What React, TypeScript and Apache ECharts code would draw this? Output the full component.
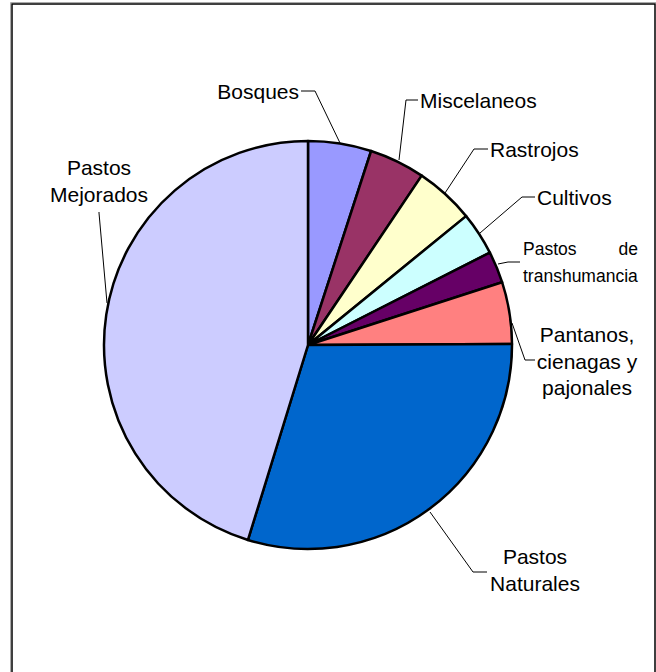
import React, { useEffect, useRef } from "react";
import * as echarts from "echarts";

const categories = [
  "Bosques",
  "Miscelaneos",
  "Rastrojos",
  "Cultivos",
  "Pastos de transhumancia",
  "Pantanos, cienagas y pajonales",
  "Pastos Naturales",
  "Pastos Mejorados",
];
const values = [5.0, 4.4, 4.7, 3.4, 2.5, 4.9, 29.8, 45.2];
const colors = ["#9999FF", "#993366", "#FFFFCC", "#CCFFFF", "#660066", "#FF8080", "#0066CC", "#CCCCFF"];
const labelTexts = [
  "Bosques",
  "Miscelaneos",
  "Rastrojos",
  "Cultivos",
  "{a|Pastos}{b|de}\n{c|transhumancia}",
  "Pantanos,\ncienagas y\npajonales",
  "Pastos\nNaturales",
  "Pastos\nMejorados",
];

// label anchor placements (layout only)
const layouts: any[] = [
  { x: 299, y: 91, align: "right", pts: [[340, 143], [315, 91], [301, 91]] },
  { x: 420, y: 100, align: "left", pts: [[399, 160], [406, 100], [418, 100]] },
  { x: 490, y: 149, align: "left", pts: [[445, 193], [474, 149], [488, 149]] },
  { x: 537, y: 197, align: "left", pts: [[480, 233], [522, 197], [535, 197]] },
  { x: 523, y: 262, align: "left", pts: [[498, 264], [508, 262], [520, 262]] },
  { x: 587, y: 361, align: "center", pts: [[512, 323], [525, 360], [535, 360]] },
  { x: 535, y: 570, align: "center", pts: [[430, 512], [473, 572], [487, 572]] },
  { x: 99, y: 181, align: "center", pts: [[107, 303], [99, 213], [99, 212]] },
];

const FONT = "'Liberation Sans', Arial, sans-serif";

export default function App() {
  const ref = useRef<HTMLDivElement>(null);
  useEffect(() => {
    const chart = echarts.init(ref.current!, undefined, { renderer: "svg" });
    chart.setOption({
      animation: false,
      backgroundColor: "#ffffff",
      graphic: [
        {
          type: "rect",
          shape: { x: 10.5, y: 2.5, width: 646, height: 700 },
          style: { fill: "none", stroke: "#aaaaaa", lineWidth: 1 },
          silent: true,
        },
        {
          type: "rect",
          shape: { x: 12, y: 4, width: 643, height: 700 },
          style: { fill: "none", stroke: "#000000", lineWidth: 1.5 },
          silent: true,
        },
      ],
      series: [
        {
          type: "pie",
          center: [308, 345],
          radius: 204,
          startAngle: 90,
          clockwise: true,
          avoidLabelOverlap: false,
          data: categories.map((name, i) => ({
            name,
            value: values[i],
            itemStyle: { color: colors[i] },
            label: {
              formatter: labelTexts[i],
              fontSize: i === 4 ? 17.5 : 21,
              lineHeight: i === 4 ? 27 : 26.5,
            },
          })),
          itemStyle: { borderColor: "#000000", borderWidth: 2.5 },
          label: {
            show: true,
            position: "outside",
            color: "#000000",
            fontFamily: FONT,
            fontSize: 21,
            lineHeight: 26.5,
            rich: {
              a: { fontFamily: FONT, fontSize: 17.5, width: 96, align: "left", color: "#000" },
              b: { fontFamily: FONT, fontSize: 17.5, width: 19, align: "right", color: "#000" },
              c: { fontFamily: FONT, fontSize: 17.5, width: 115, align: "left", color: "#000" },
            },
          },
          labelLine: {
            show: true,
            lineStyle: { color: "#000000", width: 1 },
          },
          labelLayout: (params: any) => {
            const l = layouts[params.dataIndex];
            return {
              x: l.x,
              y: l.y,
              align: l.align,
              verticalAlign: "middle",
              labelLinePoints: l.pts,
            };
          },
          emphasis: { disabled: true },
        },
      ],
    });
    return () => chart.dispose();
  }, []);
  return (
    <div
      ref={ref}
      style={{ position: "fixed", left: 0, top: 0, width: 656, height: 672 }}
    />
  );
}
